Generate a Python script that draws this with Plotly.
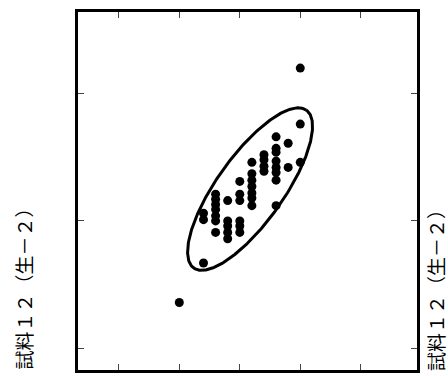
import numpy as np
import plotly.graph_objects as go

# ---- data ----
x_vals = [4.0, 4.0, 3.6, 3.8, 3.6, 3.6, 3.4, 3.4, 3.6, 3.4, 3.6, 3.8, 4.0, 3.4, 3.6, 3.6,
          3.2, 3.2, 3.2, 3.2, 3.2, 3.2, 3.2, 3.0, 3.0, 3.0, 2.8, 3.6, 2.6, 2.6, 2.6, 2.6,
          2.6, 2.6, 2.4, 2.4, 2.6, 2.8, 2.8, 2.8, 2.8, 3.0, 3.0, 3.0, 2.4, 2.0]
y_vals = [3.20, 2.76, 2.66, 2.61, 2.57, 2.54, 2.52, 2.48, 2.47, 2.43, 2.42, 2.42, 2.46, 2.39,
          2.38, 2.32, 2.46, 2.37, 2.32, 2.27, 2.22, 2.18, 2.12, 2.31, 2.21, 2.16, 2.16, 2.12,
          2.21, 2.17, 2.13, 2.09, 2.04, 2.00, 2.06, 2.01, 1.91, 2.00, 1.96, 1.91, 1.86, 2.00,
          1.96, 1.91, 1.67, 1.36]

x_ticks = [1, 2, 3, 4, 5]
y_ticks = [1, 2, 3]

# ellipse (centre and semi-axis vectors, data units)
ell_center = (3.17, 2.25)
ell_major = (0.93, 0.62)
ell_minor = (-0.45, 0.15)

axis_title = "試料１２（生－２）"

t = np.linspace(0, 2 * np.pi, 361)
ex = ell_center[0] + ell_major[0] * np.cos(t) + ell_minor[0] * np.sin(t)
ey = ell_center[1] + ell_major[1] * np.cos(t) + ell_minor[1] * np.sin(t)

fig = go.Figure()
fig.add_trace(go.Scatter(x=ex, y=ey, mode="lines",
                         line=dict(color="black", width=3), hoverinfo="skip"))
fig.add_trace(go.Scatter(x=x_vals, y=y_vals, mode="markers",
                         marker=dict(color="black", size=9, line=dict(width=0))))

axis_common = dict(showgrid=False, zeroline=False, showline=True, linecolor="black",
                   linewidth=3, mirror="ticks", ticks="inside", ticklen=6, tickwidth=1,
                   tickcolor="#444", showticklabels=False)

fig.update_xaxes(range=[0.325, 5.93], tickvals=x_ticks, **axis_common)
fig.update_yaxes(range=[0.83, 3.64], tickvals=y_ticks, **axis_common)

title_font = dict(family="Noto Sans CJK JP", size=19, color="black")
fig.update_layout(
    width=448, height=376,
    margin=dict(l=78, r=31, t=12, b=6),
    paper_bgcolor="white", plot_bgcolor="white",
    showlegend=False,
    annotations=[
        dict(text=axis_title, textangle=-90, xref="paper", yref="paper",
             x=0, y=(370 - 284.5) / 358, xanchor="center", yanchor="middle",
             xshift=-55, showarrow=False, font=title_font),
        dict(text=axis_title, textangle=-90, xref="paper", yref="paper",
             x=1, y=(370 - 286) / 358, xanchor="center", yanchor="middle",
             xshift=18, showarrow=False, font=title_font),
    ],
)

fig.write_html("out.html", config={"displayModeBar": False},
               post_script="document.body.style.margin='0';")
